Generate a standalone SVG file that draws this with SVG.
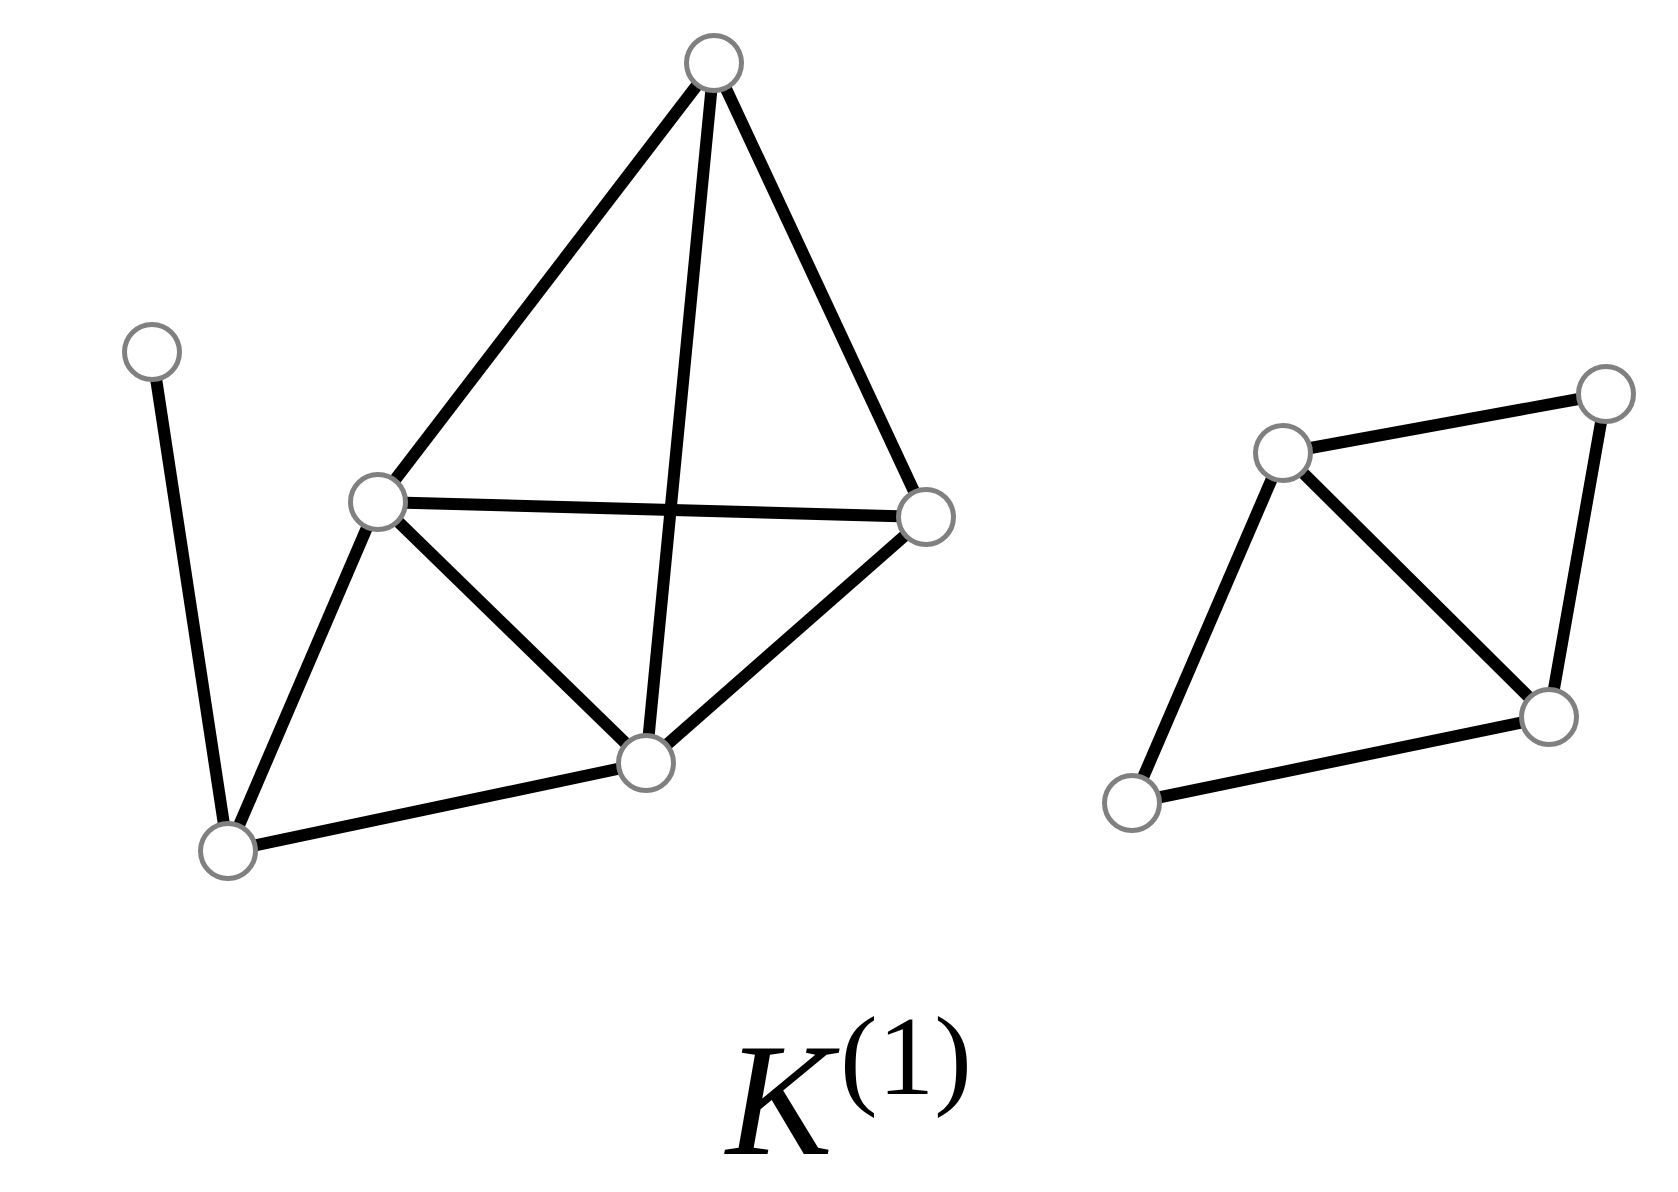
<svg xmlns="http://www.w3.org/2000/svg" width="1678" height="1192" viewBox="0 0 1678 1192">
<style>
.e{stroke:#000;stroke-width:12;stroke-linecap:butt}
.n{fill:#fff;stroke:#808080;stroke-width:5}
</style>
<rect width="1678" height="1192" fill="#fff"/>
<g id="edges">
<line class="e" x1="714" y1="63" x2="378" y2="502"/>
<line class="e" x1="714" y1="63" x2="646" y2="763"/>
<line class="e" x1="714" y1="63" x2="926" y2="517"/>
<line class="e" x1="152" y1="352" x2="228" y2="851"/>
<line class="e" x1="378" y1="502" x2="926" y2="517"/>
<line class="e" x1="378" y1="502" x2="646" y2="763"/>
<line class="e" x1="378" y1="502" x2="228" y2="851"/>
<line class="e" x1="926" y1="517" x2="646" y2="763"/>
<line class="e" x1="646" y1="763" x2="228" y2="851"/>
<line class="e" x1="1283" y1="453" x2="1606" y2="394"/>
<line class="e" x1="1283" y1="453" x2="1549" y2="717"/>
<line class="e" x1="1283" y1="453" x2="1132" y2="803"/>
<line class="e" x1="1606" y1="394" x2="1549" y2="717"/>
<line class="e" x1="1549" y1="717" x2="1132" y2="803"/>
</g>
<g id="n1"><circle class="n" cx="714" cy="63" r="27.5"/></g>
<g id="n2"><circle class="n" cx="152" cy="352" r="27.5"/></g>
<g id="n3"><circle class="n" cx="378" cy="502" r="27.5"/></g>
<g id="n4"><circle class="n" cx="926" cy="517" r="27.5"/></g>
<g id="n5"><circle class="n" cx="646" cy="763" r="27.5"/></g>
<g id="n6"><circle class="n" cx="228" cy="851" r="27.5"/></g>
<g id="n7"><circle class="n" cx="1283" cy="453" r="27.5"/></g>
<g id="n8"><circle class="n" cx="1606" cy="394" r="27.5"/></g>
<g id="n9"><circle class="n" cx="1549" cy="717" r="27.5"/></g>
<g id="n10"><circle class="n" cx="1132" cy="803" r="27.5"/></g>
<g id="label" font-family="'Liberation Serif', 'Times New Roman', serif" fill="#000">
<text x="726" y="1154" font-size="160" font-style="italic">K</text>
<text x="840" y="1094" font-size="113">(1)</text>
</g>
</svg>
